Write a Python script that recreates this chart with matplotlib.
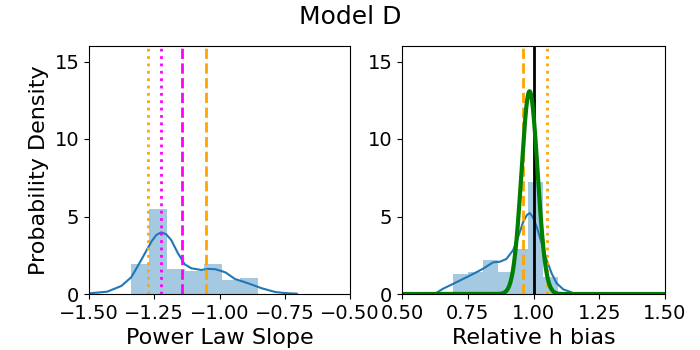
import numpy as np
import matplotlib
matplotlib.use("Agg")
import matplotlib.pyplot as plt

# ---- data ----
slope_edges = [-1.339, -1.270, -1.201, -1.133, -1.059, -0.990, -0.921, -0.853]
slope_density = [1.94, 5.48, 1.61, 1.48, 1.94, 0.90, 1.03]
slope_kde_x = [-1.50, -1.43, -1.376, -1.338, -1.300, -1.261, -1.242, -1.223, -1.204,
               -1.185, -1.159, -1.133, -1.108, -1.070, -1.044, -1.017, -0.990, -0.976,
               -0.941, -0.890, -0.838, -0.787, -0.749, -0.704]
slope_kde_y = [0.04, 0.15, 0.52, 1.08, 2.19, 3.38, 3.81, 3.98, 3.85,
               3.48, 2.62, 1.91, 1.66, 1.55, 1.62, 1.60, 1.47, 1.38,
               0.97, 0.69, 0.37, 0.13, 0.06, 0.02]
slope_dotted = {"orange": -1.273, "magenta": -1.223}
slope_dashed = {"magenta": -1.143, "orange": -1.051}

hbias_edges = [0.694, 0.751, 0.808, 0.865, 0.923, 0.980, 1.037, 1.094]
hbias_density = [1.27, 1.42, 2.19, 1.42, 2.90, 7.20, 1.08]
hbias_kde_x = [0.624, 0.656, 0.694, 0.732, 0.770, 0.808, 0.846, 0.872, 0.897, 0.910,
               0.923, 0.942, 0.961, 0.975, 0.986, 0.998, 1.012, 1.031, 1.050, 1.069,
               1.088, 1.113, 1.138, 1.151]
hbias_kde_y = [0.0, 0.34, 0.65, 0.97, 1.29, 1.63, 2.04, 2.08, 2.26, 2.55,
               2.84, 3.70, 4.66, 5.10, 5.22, 4.95, 4.34, 3.27, 2.19, 1.33,
               0.69, 0.30, 0.15, 0.05]
hbias_dashed_orange = 0.961
hbias_dotted_orange = 1.052
hbias_truth = 1.0
green_mu = 0.985
green_sigma = 0.0305

fig = plt.figure(figsize=(7, 3.5), dpi=100)
ax1 = fig.add_axes([89/700, 1-294/350, 261/700, 248/350])
ax2 = fig.add_axes([402/700, 1-294/350, 263/700, 248/350])

hist_color = (0.12, 0.47, 0.71)

# left panel
ax1.bar(slope_edges[:-1], slope_density, width=np.diff(slope_edges), align="edge",
        color=hist_color, alpha=0.4, linewidth=0)
ax1.plot(slope_kde_x, slope_kde_y, color=hist_color, lw=1.5)
for c, v in slope_dotted.items():
    ax1.axvline(v, color=c, ls=":", lw=2)
for c, v in slope_dashed.items():
    ax1.axvline(v, color=c, ls="--", lw=2)
ax1.set_xlim(-1.5, -0.5)
ax1.set_ylim(0, 16)
ax1.set_xticks([-1.5, -1.25, -1.0, -0.75, -0.5])
ax1.set_xticklabels(["\u22121.50", "\u22121.25", "\u22121.00", "\u22120.75", "\u22120.50"])
ax1.set_yticks([0, 5, 10, 15])
ax1.set_xlabel("Power Law Slope", fontsize=16)
ax1.set_ylabel("Probability Density", fontsize=16)

# right panel
ax2.bar(hbias_edges[:-1], hbias_density, width=np.diff(hbias_edges), align="edge",
        color=hist_color, alpha=0.4, linewidth=0)
ax2.plot(hbias_kde_x, hbias_kde_y, color=hist_color, lw=1.5)
ax2.axvline(hbias_dashed_orange, color="orange", ls="--", lw=2)
ax2.axvline(hbias_dotted_orange, color="orange", ls=":", lw=2)
ax2.axvline(hbias_truth, color="black", ls="-", lw=2)
gx = np.linspace(0.5, 1.5, 600)
gy = np.exp(-0.5 * ((gx - green_mu) / green_sigma) ** 2) / (green_sigma * np.sqrt(2 * np.pi))
ax2.plot(gx, gy, color="green", lw=3)
ax2.set_xlim(0.5, 1.5)
ax2.set_ylim(0, 16)
ax2.set_xticks([0.5, 0.75, 1.0, 1.25, 1.5])
ax2.set_xticklabels(["0.50", "0.75", "1.00", "1.25", "1.50"])
ax2.set_yticks([0, 5, 10, 15])
ax2.set_xlabel("Relative h bias", fontsize=16)

for ax in (ax1, ax2):
    ax.tick_params(labelsize=14)

fig.suptitle("Model D", fontsize=18, y=0.985)
fig.savefig("out.png", dpi=100)
